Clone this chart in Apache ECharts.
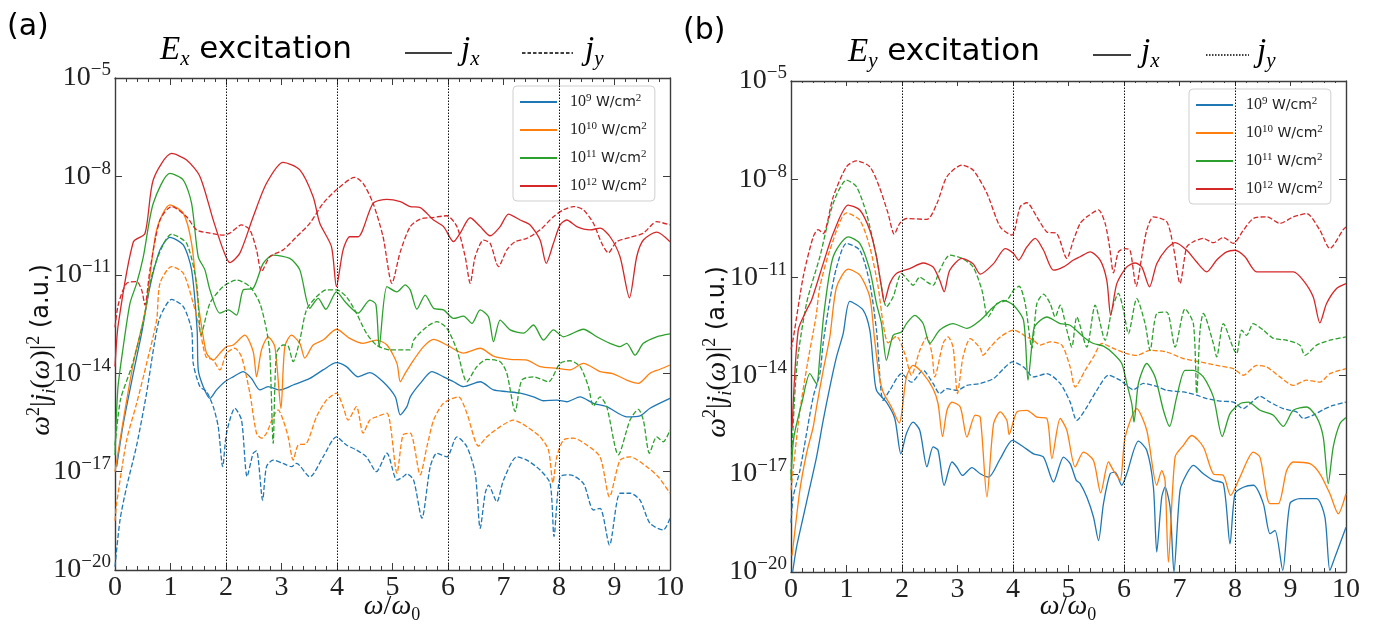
<!DOCTYPE html>
<html><head><meta charset="utf-8">
<script src="https://cdn.jsdelivr.net/npm/echarts@6/dist/echarts.min.js"></script>
<style>html,body{margin:0;padding:0;background:#fff}#c{width:1373px;height:635px}</style>
</head><body><div id="c"></div><script>
// ---- data: [omega/omega0, log10(omega^2 |j_i|^2)] ----
const yTicks = [-20,-17,-14,-11,-8,-5];
const vlines = [2,4,6,8];
const intensities = ['9','10','11','12'];
const colors = ['#1f77b4','#ff7f0e','#2ca02c','#d62728'];

// Panel (a): Ex excitation
const a_jx_9 = [[0.03,-16.85],[0.15,-15.53],[0.33,-14.0],[0.48,-12.78],[0.63,-11.36],[0.81,-10.24],[0.99,-9.86],[1.23,-10.09],[1.38,-10.85],[1.48,-12.68],[1.5,-13.9],[1.59,-14.41],[1.71,-14.77],[1.83,-14.51],[1.98,-14.26],[2.13,-14.11],[2.31,-13.95],[2.46,-14.16],[2.61,-14.51],[2.76,-14.41],[2.97,-14.51],[3.21,-14.36],[3.51,-14.16],[3.75,-13.9],[3.99,-13.68],[4.17,-13.8],[4.38,-14.11],[4.59,-13.98],[4.83,-14.26],[5.05,-14.72],[5.14,-15.27],[5.26,-15.02],[5.32,-14.72],[5.5,-14.31],[5.71,-13.95],[5.92,-14.11],[6.1,-14.26],[6.28,-14.41],[6.58,-14.26],[6.82,-14.51],[7.06,-14.56],[7.3,-14.61],[7.54,-14.72],[7.72,-14.84],[7.96,-14.82],[8.14,-14.87],[8.38,-14.72],[8.62,-14.92],[8.86,-15.02],[9.22,-15.33],[9.46,-15.3],[9.64,-15.07],[10,-14.77]];
const a_jy_9 = [[0.0,-19.9],[0.09,-18.48],[0.21,-17.46],[0.39,-16.2],[0.57,-14.6],[0.7,-13.2],[0.81,-12.3],[1.02,-11.75],[1.23,-11.97],[1.38,-12.68],[1.41,-13.7],[1.53,-14.41],[1.65,-14.56],[1.77,-15.02],[1.86,-15.63],[1.94,-16.85],[2.01,-15.83],[2.16,-15.07],[2.28,-15.43],[2.38,-17.15],[2.49,-16.44],[2.55,-16.37],[2.66,-17.87],[2.73,-16.85],[2.85,-16.65],[3.03,-16.75],[3.18,-16.85],[3.27,-16.75],[3.51,-17.16],[3.75,-16.55],[3.99,-15.94],[4.17,-16.19],[4.35,-16.34],[4.53,-16.55],[4.71,-17.0],[4.9,-16.44],[5.08,-17.26],[5.19,-17.16],[5.26,-17.07],[5.38,-17.26],[5.53,-18.42],[5.68,-16.85],[5.8,-16.44],[5.98,-16.55],[6.16,-15.94],[6.34,-16.24],[6.49,-17.05],[6.58,-18.73],[6.67,-17.66],[6.73,-17.41],[6.88,-17.92],[7.0,-17.26],[7.24,-16.55],[7.42,-16.65],[7.66,-16.95],[7.84,-17.36],[7.91,-18.98],[8.02,-17.16],[8.2,-17.1],[8.44,-17.36],[8.62,-18.17],[8.74,-18.12],[8.91,-19.24],[9.1,-17.66],[9.28,-17.66],[9.46,-17.87],[9.64,-18.58],[9.88,-18.78],[10,-18.42]];
const a_jx_10 = [[0,-17.0],[0.15,-15.43],[0.33,-13.7],[0.51,-12.38],[0.57,-11.87],[0.75,-9.63],[0.99,-8.87],[1.23,-9.12],[1.38,-10.04],[1.5,-11.87],[1.59,-12.89],[1.65,-13.39],[1.77,-13.6],[1.89,-13.39],[2.01,-13.19],[2.13,-13.14],[2.34,-12.84],[2.49,-13.34],[2.55,-14.11],[2.64,-13.29],[2.76,-12.89],[2.88,-13.19],[2.99,-15.07],[3.06,-13.19],[3.18,-12.84],[3.33,-13.09],[3.42,-13.54],[3.57,-13.14],[3.75,-12.99],[3.99,-12.66],[4.23,-12.94],[4.47,-13.09],[4.71,-12.99],[4.9,-13.14],[5.08,-13.7],[5.14,-14.26],[5.23,-14.0],[5.38,-13.6],[5.56,-13.19],[5.74,-12.97],[5.98,-13.14],[6.28,-13.39],[6.58,-13.24],[6.82,-13.48],[7.12,-13.58],[7.42,-13.6],[7.66,-13.8],[7.96,-13.85],[8.2,-13.9],[8.44,-13.7],[8.74,-13.95],[8.98,-14.02],[9.22,-14.21],[9.43,-14.31],[9.64,-14.0],[9.82,-13.88],[10,-13.75]];
const a_jy_10 = [[0,-18.5],[0.03,-17.97],[0.21,-16.04],[0.39,-14.92],[0.57,-13.7],[0.75,-12.38],[0.81,-11.26],[1.02,-10.75],[1.23,-10.95],[1.41,-11.87],[1.53,-12.68],[1.64,-13.5],[1.77,-13.6],[1.89,-13.9],[2.01,-13.39],[2.16,-13.24],[2.28,-13.5],[2.43,-14.61],[2.55,-15.83],[2.64,-15.98],[2.73,-15.83],[2.85,-15.33],[2.94,-15.12],[3.03,-15.43],[3.12,-15.94],[3.21,-16.65],[3.3,-16.19],[3.45,-16.14],[3.63,-15.33],[3.81,-14.82],[3.99,-14.61],[4.11,-15.02],[4.2,-15.43],[4.35,-15.02],[4.47,-15.83],[4.59,-15.43],[4.71,-15.33],[4.9,-15.22],[5.08,-17.05],[5.19,-15.88],[5.32,-15.83],[5.5,-17.1],[5.62,-16.24],[5.74,-15.43],[5.89,-14.97],[6.01,-14.82],[6.19,-14.72],[6.34,-15.22],[6.55,-16.22],[6.7,-15.94],[6.94,-15.63],[7.18,-15.43],[7.42,-15.63],[7.66,-15.94],[7.81,-16.34],[7.89,-17.34],[7.96,-16.55],[8.08,-16.04],[8.26,-15.98],[8.5,-16.19],[8.74,-16.55],[8.91,-17.77],[9.1,-16.65],[9.28,-16.55],[9.58,-16.85],[9.79,-17.16],[10,-17.66]];
const a_jx_11 = [[0,-16.5],[0.05,-14.5],[0.14,-13.3],[0.27,-11.87],[0.39,-11.26],[0.51,-10.45],[0.69,-8.82],[0.99,-7.91],[1.23,-8.11],[1.38,-8.82],[1.5,-10.45],[1.62,-10.85],[1.71,-11.46],[1.89,-12.17],[2.04,-12.07],[2.19,-12.23],[2.31,-11.46],[2.49,-11.41],[2.67,-10.65],[2.85,-10.4],[3.15,-10.5],[3.33,-10.85],[3.51,-12.02],[3.66,-11.72],[3.8,-12.05],[3.99,-11.52],[4.17,-11.87],[4.38,-12.17],[4.59,-11.77],[4.7,-11.9],[4.76,-13.19],[4.9,-11.36],[5.08,-11.52],[5.23,-11.31],[5.32,-11.46],[5.44,-12.05],[5.59,-11.62],[5.74,-12.02],[5.92,-12.07],[6.1,-12.33],[6.28,-12.26],[6.43,-12.48],[6.58,-12.07],[6.73,-12.28],[6.82,-13.04],[6.94,-12.38],[7.12,-12.68],[7.36,-12.78],[7.54,-12.53],[7.72,-12.99],[7.9,-12.68],[8.08,-12.89],[8.44,-12.66],[8.68,-12.89],[8.92,-13.09],[9.1,-13.19],[9.22,-13.09],[9.37,-13.45],[9.52,-13.09],[9.76,-12.89],[10,-12.8]];
const a_jy_11 = [[0,-16.2],[0.1,-14.8],[0.3,-13.8],[0.5,-12.5],[0.7,-10.8],[1.02,-9.76],[1.29,-10.04],[1.47,-11.26],[1.55,-12.84],[1.71,-11.87],[1.95,-11.36],[2.19,-11.16],[2.43,-11.36],[2.61,-11.87],[2.73,-12.68],[2.79,-13.4],[2.85,-16.14],[2.91,-13.39],[3.03,-13.14],[3.12,-13.17],[3.21,-13.65],[3.33,-12.99],[3.45,-12.07],[3.63,-11.67],[3.81,-11.46],[3.99,-11.46],[4.17,-11.67],[4.35,-12.17],[4.53,-12.78],[4.71,-13.14],[4.95,-13.29],[5.32,-13.29],[5.38,-12.99],[5.62,-12.58],[5.8,-12.43],[5.98,-12.63],[6.16,-13.29],[6.34,-14.26],[6.52,-13.8],[6.7,-13.58],[6.94,-13.65],[7.06,-14.0],[7.21,-15.17],[7.33,-14.21],[7.54,-14.11],[7.81,-14.26],[8.02,-13.7],[8.2,-13.62],[8.38,-13.8],[8.53,-14.41],[8.62,-15.0],[8.74,-14.72],[8.86,-15.02],[9.07,-16.49],[9.28,-15.43],[9.43,-15.1],[9.52,-15.43],[9.63,-16.44],[9.76,-15.94],[9.88,-16.09],[10,-15.73]];
const a_jx_12 = [[0,-13.8],[0.06,-12.5],[0.33,-10.0],[0.54,-9.74],[0.69,-8.1],[1.02,-7.3],[1.29,-7.5],[1.53,-8.0],[1.77,-9.33],[1.95,-10.24],[2.07,-10.63],[2.25,-10.34],[2.49,-9.23],[2.73,-8.21],[3.03,-7.57],[3.33,-7.8],[3.57,-8.62],[3.69,-9.43],[3.9,-10.14],[3.99,-11.36],[4.11,-10.24],[4.23,-9.84],[4.38,-9.84],[4.65,-8.82],[4.9,-8.7],[5.14,-8.77],[5.32,-8.92],[5.5,-8.95],[5.74,-9.33],[5.92,-9.53],[6.1,-9.99],[6.22,-9.73],[6.4,-9.26],[6.58,-9.53],[6.76,-9.81],[6.94,-9.53],[7.09,-9.15],[7.3,-9.33],[7.48,-9.48],[7.66,-9.94],[7.77,-10.65],[7.9,-10.04],[8.02,-9.48],[8.14,-9.33],[8.32,-9.53],[8.56,-9.63],[8.74,-9.58],[8.92,-9.84],[9.1,-10.45],[9.27,-11.7],[9.4,-10.45],[9.52,-9.94],[9.76,-9.7],[10,-9.99]];
const a_jy_12 = [[0,-12.6],[0.06,-11.9],[0.21,-11.26],[0.39,-11.21],[0.48,-11.46],[0.54,-11.92],[0.63,-10.85],[0.81,-9.33],[1.02,-8.92],[1.29,-9.23],[1.47,-9.63],[1.71,-9.73],[1.95,-9.79],[2.07,-9.73],[2.28,-9.48],[2.43,-9.63],[2.55,-10.24],[2.64,-10.9],[2.79,-10.45],[3.03,-10.24],[3.27,-9.84],[3.51,-9.43],[3.75,-8.82],[3.99,-8.41],[4.32,-8.03],[4.47,-8.21],[4.65,-8.82],[4.83,-9.84],[4.99,-11.26],[5.14,-10.3],[5.32,-9.53],[5.5,-9.3],[5.74,-9.25],[5.98,-9.2],[6.16,-9.53],[6.31,-10.45],[6.4,-11.26],[6.49,-10.45],[6.64,-9.94],[6.76,-10.04],[6.91,-10.75],[7.06,-10.24],[7.21,-9.99],[7.42,-9.89],[7.66,-9.63],[7.9,-9.23],[8.08,-9.02],[8.26,-8.92],[8.44,-9.02],[8.62,-9.43],[8.77,-10.04],[8.89,-10.33],[9.04,-9.99],[9.28,-9.86],[9.52,-9.73],[9.76,-9.38],[10,-9.48]];

// Panel (b): Ey excitation
const b_jx_9 = [[0.03,-20.0],[0.1,-19.24],[0.22,-18.32],[0.34,-17.41],[0.46,-16.49],[0.58,-15.37],[0.7,-14.35],[0.82,-13.43],[0.94,-12.72],[1.06,-11.73],[1.3,-12.0],[1.42,-12.61],[1.48,-13.63],[1.54,-14.45],[1.72,-14.81],[1.87,-15.31],[1.98,-16.39],[2.08,-15.77],[2.2,-15.42],[2.32,-15.67],[2.45,-16.79],[2.56,-16.18],[2.65,-16.28],[2.76,-17.35],[2.9,-16.64],[2.99,-16.8],[3.09,-17.05],[3.26,-16.81],[3.41,-17.0],[3.56,-17.1],[3.77,-16.54],[3.99,-15.98],[4.19,-16.18],[4.37,-16.39],[4.55,-16.49],[4.73,-17.25],[4.91,-16.49],[5.03,-16.69],[5.14,-17.2],[5.21,-17.3],[5.33,-17.71],[5.45,-18.32],[5.54,-19.04],[5.63,-17.91],[5.75,-17.0],[5.84,-16.95],[5.96,-17.35],[6.05,-17.0],[6.26,-16.0],[6.41,-16.28],[6.53,-17.41],[6.59,-19.39],[6.68,-17.71],[6.74,-17.41],[6.83,-18.02],[6.9,-20.0],[7.01,-17.5],[7.13,-17.0],[7.25,-16.74],[7.43,-17.0],[7.61,-17.2],[7.79,-17.3],[7.91,-19.14],[8.0,-17.61],[8.15,-17.41],[8.33,-17.35],[8.51,-17.91],[8.63,-18.83],[8.72,-18.73],[8.86,-19.95],[8.99,-17.91],[9.17,-17.76],[9.47,-17.76],[9.62,-18.32],[9.71,-19.95],[9.8,-19.55],[10,-18.63]];
const b_jy_9 = [[0,-18.5],[0.04,-17.7],[0.16,-16.9],[0.4,-14.65],[0.52,-13.94],[0.58,-13.0],[0.7,-11.7],[0.82,-10.7],[1.0,-9.96],[1.24,-10.17],[1.42,-11.19],[1.54,-12.61],[1.66,-14.76],[1.78,-14.45],[1.99,-13.94],[2.17,-14.2],[2.38,-13.84],[2.56,-14.24],[2.68,-14.55],[2.81,-14.4],[2.99,-14.45],[3.17,-14.3],[3.41,-14.24],[3.65,-14.09],[3.83,-13.79],[3.99,-13.58],[4.19,-13.74],[4.37,-14.04],[4.61,-13.94],[4.85,-14.24],[5.03,-14.81],[5.15,-15.37],[5.33,-14.96],[5.51,-14.45],[5.72,-13.99],[5.93,-14.14],[6.17,-14.43],[6.35,-14.24],[6.59,-14.33],[6.77,-14.45],[7.07,-14.5],[7.31,-14.6],[7.49,-14.7],[7.73,-14.78],[7.97,-14.81],[8.15,-15.01],[8.27,-14.86],[8.45,-14.63],[8.63,-14.81],[8.87,-15.01],[9.11,-15.11],[9.23,-15.31],[9.41,-15.21],[9.59,-15.04],[9.77,-14.91],[10,-14.81]];
const b_jx_10 = [[0.02,-19.5],[0.16,-17.5],[0.28,-16.38],[0.4,-15.57],[0.46,-14.96],[0.58,-13.84],[0.7,-12.82],[0.82,-11.3],[1.03,-10.75],[1.24,-10.93],[1.42,-11.6],[1.5,-12.8],[1.58,-13.9],[1.66,-14.5],[1.81,-14.96],[1.95,-15.45],[2.08,-14.04],[2.2,-13.69],[2.38,-13.94],[2.56,-14.4],[2.65,-14.86],[2.73,-15.86],[2.81,-15.06],[2.9,-14.81],[3.05,-14.96],[3.17,-15.88],[3.32,-15.21],[3.41,-15.27],[3.53,-17.71],[3.65,-15.47],[3.77,-15.11],[3.89,-15.37],[3.93,-15.8],[4.07,-15.11],[4.25,-15.06],[4.43,-15.27],[4.61,-15.31],[4.7,-16.54],[4.85,-15.31],[4.97,-15.67],[5.12,-16.79],[5.27,-16.34],[5.45,-16.59],[5.58,-17.58],[5.72,-16.64],[5.81,-16.9],[5.93,-17.2],[6.02,-15.88],[6.23,-15.01],[6.41,-15.67],[6.59,-17.35],[6.68,-16.9],[6.74,-17.2],[6.8,-19.7],[6.92,-16.49],[7.07,-16.13],[7.22,-15.83],[7.43,-16.18],[7.61,-17.0],[7.79,-17.05],[7.92,-17.66],[8.09,-17.1],[8.33,-16.34],[8.45,-16.49],[8.63,-17.91],[8.78,-17.91],[8.93,-16.9],[9.05,-16.64],[9.35,-16.69],[9.53,-17.0],[9.71,-17.61],[9.86,-18.22],[10,-17.61]];
const b_jy_10 = [[0,-17.5],[0.15,-15.2],[0.3,-13.6],[0.45,-12.2],[0.52,-11.29],[0.7,-10.17],[1.0,-9.03],[1.24,-9.25],[1.42,-10.07],[1.57,-11.29],[1.66,-12.41],[1.75,-13.0],[1.9,-12.8],[2.05,-13.33],[2.17,-13.99],[2.32,-13.23],[2.45,-12.82],[2.54,-13.33],[2.59,-14.04],[2.74,-13.02],[2.83,-12.82],[2.92,-13.13],[3.0,-14.55],[3.1,-13.43],[3.23,-12.87],[3.41,-13.17],[3.46,-13.38],[3.59,-13.13],[3.77,-12.82],[4.01,-12.61],[4.25,-12.82],[4.37,-12.92],[4.49,-13.07],[4.67,-12.97],[4.88,-13.07],[5.03,-13.74],[5.12,-14.35],[5.3,-13.84],[5.45,-13.43],[5.6,-13.02],[5.81,-13.17],[6.05,-13.33],[6.23,-13.38],[6.47,-13.23],[6.77,-13.28],[7.07,-13.48],[7.37,-13.58],[7.67,-13.69],[7.97,-13.79],[8.15,-13.99],[8.39,-13.69],[8.57,-13.74],[8.81,-14.04],[9.05,-14.3],[9.29,-14.14],[9.53,-14.2],[9.71,-13.94],[10,-13.79]];
const b_jx_11 = [[0,-17.2],[0.05,-15.9],[0.2,-14.8],[0.34,-13.94],[0.46,-14.25],[0.52,-13.4],[0.6,-12.0],[0.76,-10.37],[1.03,-9.76],[1.24,-9.96],[1.42,-10.78],[1.54,-11.8],[1.63,-12.41],[1.72,-13.53],[1.84,-12.77],[1.99,-12.67],[2.08,-12.41],[2.23,-12.16],[2.38,-12.41],[2.5,-13.02],[2.68,-12.61],[2.92,-12.41],[3.17,-12.56],[3.41,-12.31],[3.65,-11.9],[3.83,-11.7],[4.01,-11.85],[4.19,-12.31],[4.27,-14.14],[4.37,-12.61],[4.43,-12.41],[4.61,-12.21],[4.85,-12.41],[5.03,-12.46],[5.27,-12.82],[5.45,-13.02],[5.63,-13.1],[5.81,-13.33],[5.96,-13.63],[6.05,-14.24],[6.14,-14.86],[6.18,-15.42],[6.26,-14.24],[6.41,-13.63],[6.56,-14.04],[6.71,-15.06],[6.82,-15.55],[6.95,-14.65],[7.1,-13.84],[7.25,-13.84],[7.43,-14.04],[7.61,-14.65],[7.77,-15.86],[7.91,-15.16],[8.09,-14.86],[8.24,-14.81],[8.45,-15.06],[8.69,-15.21],[8.87,-15.55],[9.05,-15.06],[9.29,-14.96],[9.47,-15.27],[9.59,-15.88],[9.68,-17.3],[9.77,-16.18],[9.89,-15.47],[10,-15.28]];
const b_jy_11 = [[0,-17.0],[0.1,-13.8],[0.28,-11.79],[0.52,-10.37],[0.76,-8.74],[1.0,-8.03],[1.18,-8.23],[1.36,-9.05],[1.54,-10.37],[1.63,-11.29],[1.72,-11.9],[1.84,-11.6],[1.99,-10.88],[2.11,-11.09],[2.2,-11.24],[2.32,-10.99],[2.45,-11.14],[2.56,-11.24],[2.68,-10.78],[2.86,-10.32],[3.08,-10.42],[3.28,-10.68],[3.44,-11.39],[3.55,-12.21],[3.71,-11.8],[3.89,-11.7],[4.01,-11.39],[4.11,-11.27],[4.22,-11.8],[4.34,-13.17],[4.43,-11.8],[4.55,-11.51],[4.67,-11.8],[4.76,-12.21],[4.85,-11.85],[4.97,-12.61],[5.06,-13.13],[5.15,-12.21],[5.33,-13.13],[5.48,-11.85],[5.66,-12.92],[5.78,-12.0],[5.9,-11.49],[5.99,-12.0],[6.08,-12.72],[6.23,-11.65],[6.38,-12.41],[6.47,-13.23],[6.59,-12.1],[6.77,-12.06],[6.92,-13.13],[7.1,-11.96],[7.25,-12.41],[7.31,-14.55],[7.37,-12.61],[7.43,-12.1],[7.61,-13.02],[7.67,-13.43],[7.79,-12.41],[7.97,-13.17],[8.03,-13.33],[8.12,-12.61],[8.21,-12.77],[8.33,-12.41],[8.51,-12.61],[8.69,-12.86],[8.93,-12.92],[9.17,-13.07],[9.26,-13.38],[9.47,-13.07],[9.71,-12.92],[10,-12.82]];
const b_jx_12 = [[0.02,-15.6],[0.13,-12.61],[0.28,-12.0],[0.37,-11.7],[0.58,-10.58],[0.76,-9.66],[1.03,-8.79],[1.24,-8.94],[1.42,-9.56],[1.54,-10.37],[1.63,-11.29],[1.68,-11.75],[1.78,-11.19],[1.9,-10.88],[2.14,-10.73],[2.38,-10.56],[2.56,-10.68],[2.68,-11.09],[2.76,-11.44],[2.86,-10.78],[3.08,-10.42],[3.28,-10.58],[3.41,-10.9],[3.65,-10.58],[3.86,-10.12],[4.01,-10.27],[4.1,-10.47],[4.25,-10.07],[4.4,-9.81],[4.55,-10.17],[4.73,-10.78],[4.91,-10.68],[5.09,-10.47],[5.21,-10.37],[5.39,-10.22],[5.57,-10.47],[5.69,-11.09],[5.76,-12.16],[5.87,-11.19],[6.05,-10.68],[6.2,-10.56],[6.32,-10.68],[6.46,-11.29],[6.59,-10.58],[6.77,-10.12],[6.92,-9.94],[7.13,-10.17],[7.31,-10.53],[7.49,-10.83],[7.67,-10.47],[7.85,-10.22],[8.0,-10.17],[8.18,-10.37],[8.39,-10.83],[8.69,-10.83],[9.05,-10.83],[9.23,-11.09],[9.41,-11.6],[9.53,-12.39],[9.65,-11.8],[9.83,-11.34],[10,-11.19]];
const b_jy_12 = [[0,-13.2],[0.04,-12.87],[0.22,-10.98],[0.4,-9.76],[0.49,-9.54],[0.58,-9.66],[0.76,-8.54],[1.0,-7.62],[1.18,-7.44],[1.42,-7.62],[1.59,-8.23],[1.75,-9.05],[1.86,-9.68],[1.96,-9.35],[2.08,-9.2],[2.45,-9.23],[2.63,-8.74],[2.81,-7.92],[3.08,-7.57],[3.28,-7.72],[3.53,-8.43],[3.77,-9.46],[3.98,-9.71],[4.13,-8.84],[4.25,-8.72],[4.43,-9.15],[4.61,-9.61],[4.79,-9.66],[4.97,-10.42],[5.09,-9.86],[5.21,-9.35],[5.33,-9.15],[5.54,-8.94],[5.66,-9.35],[5.74,-10.07],[5.81,-10.86],[5.9,-10.22],[6.02,-10.12],[6.11,-10.17],[6.22,-11.27],[6.32,-10.37],[6.41,-9.56],[6.53,-9.15],[6.77,-9.3],[6.89,-10.07],[7.01,-11.19],[7.13,-10.07],[7.25,-9.91],[7.43,-9.81],[7.61,-9.94],[7.79,-9.78],[7.97,-9.96],[8.15,-9.56],[8.33,-9.2],[8.57,-9.15],[8.81,-9.35],[9.05,-9.15],[9.29,-9.05],[9.53,-9.56],[9.71,-10.12],[9.95,-9.54],[10,-9.46]];

const panelA = {jx:[a_jx_9,a_jx_10,a_jx_11,a_jx_12], jy:[a_jy_9,a_jy_10,a_jy_11,a_jy_12]};
const panelB = {jx:[b_jx_9,b_jx_10,b_jx_11,b_jx_12], jy:[b_jy_9,b_jy_10,b_jy_11,b_jy_12]};

const serif = "'Liberation Serif', 'DejaVu Serif', serif";
const sans = "'DejaVu Sans', 'Liberation Sans', sans-serif";
const axisColor = '#3c3c3c';

function yFmt(v){ return '{b|10}{s|' + (v < 0 ? '\u2212' + (-v) : v) + '}'; }
const yRich = {
  b:{fontFamily:serif, fontSize:28, lineHeight:34, color:'#222'},
  s:{fontFamily:serif, fontSize:19, lineHeight:20, verticalAlign:'top', color:'#222'}
};

function xAxes(g, top, dotTop){
  return {
    type:'value', gridIndex:g, min:0, max:10, interval:1, position: top ? 'top' : 'bottom',
    axisLine:{show:true, onZero:false, lineStyle:{color:axisColor, width:1.4}},
    axisTick:{show:true, inside:true, length: dotTop ? 5 : 7, lineStyle:{color:axisColor, width:1}},
    minorTick:{show:true, splitNumber:5, length: dotTop ? 2 : 4, lineStyle:{color:axisColor, width:1}},
    splitLine:{show:false},
    axisLabel:{show:!top, fontFamily:serif, fontSize:28, color:'#222', margin:4}
  };
}
function yAxes(g, right){
  return {
    type:'value', gridIndex:g, min:-20, max:-5, position: right ? 'right' : 'left',
    axisLine:{show:true, onZero:false, lineStyle:{color:axisColor, width:1.4}},
    axisTick:{show:true, inside:true, length:7, customValues:yTicks, lineStyle:{color:axisColor, width:1}},
    splitLine:{show:false},
    axisLabel:{show:!right, customValues:yTicks, formatter:yFmt, rich:yRich, margin:4}
  };
}

const series = [];
function addPanel(p, tag, xi, yi){
  intensities.forEach((k, i) => {
    const base = {type:'line', xAxisIndex:xi, yAxisIndex:yi, symbol:'none', smooth:0.25,
      animation:false, clip:true, emphasis:{disabled:true}};
    const s1 = Object.assign({}, base, {name: tag + k, data: p.jx[i],
      lineStyle:{color:colors[i], width:1.3, type:'solid'}, itemStyle:{color:colors[i]}});
    const s2 = Object.assign({}, base, {name: tag + k + 'y', data: p.jy[i],
      lineStyle:{color:colors[i], width:1.3, type:[5,2.2]}, itemStyle:{color:colors[i]}});
    if (i === 0) {
      s1.markLine = {silent:true, symbol:['none','none'], animation:false, label:{show:false},
        lineStyle:{color:'#111', width:1, type:[1.5,1.5]}, data: vlines.map(v => ({xAxis:v}))};
    }
    series.push(s1, s2);
  });
}
addPanel(panelA, 'a', 0, 0);
addPanel(panelB, 'b', 2, 2);

const legendRich = {
  n:{fontFamily:serif, fontSize:16, lineHeight:18, color:'#222', padding:[0,0,0,8]},
  s:{fontFamily:serif, fontSize:11, lineHeight:12, verticalAlign:'top', color:'#222'},
  t:{fontFamily:sans, fontSize:14, lineHeight:18, color:'#222'}
};
function legendFmt(name){ const k = name.slice(1); return '{n|10}{s|' + k + '}{t| W/cm}{s|2}'; }
function mkLegend(tag, left, top){
  return {show:true, orient:'vertical', left:left, top:top, selectedMode:false, icon:'rect',
    data: intensities.map(k => tag + k), itemWidth:37, itemHeight:2, itemGap:11,
    padding:[7,8,7,7], backgroundColor:'rgba(255,255,255,0.85)', borderColor:'#cfcfcf',
    borderWidth:1, borderRadius:4, formatter:legendFmt, textStyle:{rich:legendRich}};
}

const titleRich = {
  e:{fontFamily:serif, fontStyle:'italic', fontSize:33, lineHeight:40, fill:'#000'},
  sub:{fontFamily:serif, fontStyle:'italic', fontSize:21, lineHeight:22, verticalAlign:'bottom', fill:'#000'},
  t:{fontFamily:sans, fontSize:31, lineHeight:40, fill:'#000'}
};
const labelRich = {
  i:{fontFamily:serif, fontStyle:'italic', fontSize:28, lineHeight:34, fill:'#111'},
  n:{fontFamily:serif, fontSize:28, lineHeight:34, fill:'#111'},
  sup:{fontFamily:serif, fontSize:18, lineHeight:18, verticalAlign:'top', fill:'#111'},
  sub:{fontFamily:serif, fontStyle:'italic', fontSize:18, lineHeight:18, verticalAlign:'bottom', fill:'#111'},
  sub0:{fontFamily:serif, fontSize:18, lineHeight:18, verticalAlign:'bottom', fill:'#111'},
  t:{fontFamily:sans, fontSize:24, lineHeight:34, fill:'#111'}
};
function txt(x, y, text, rich, opt){
  return Object.assign({type:'text', x:x, y:y, silent:true,
    style:{text:text, rich:rich, align:'left', verticalAlign:'middle', fill:'#000'}}, opt || {});
}
const yLabel = '{i|ω}{sup|2}{n||}{i|j}{sub|i}{n|(}{i|ω}{n|)|}{sup|2}{t| (a.u.)}';
const xLabel = '{i|ω}{n|/}{i|ω}{sub0|0}';

const graphic = [
  {type:'text', x:7, y:27, silent:true, style:{text:'(a)', fontFamily:sans, fontSize:30, fill:'#000', verticalAlign:'middle'}},
  {type:'text', x:683, y:31, silent:true, style:{text:'(b)', fontFamily:sans, fontSize:30, fill:'#000', verticalAlign:'middle'}},
  txt(160, 50, '{e|E}{sub|x}{t| excitation}', titleRich),
  txt(848, 52, '{e|E}{sub|y}{t| excitation}', titleRich),
  {type:'line', silent:true, shape:{x1:405, y1:53, x2:452, y2:53}, style:{stroke:'#000', lineWidth:1.5}},
  txt(461, 50, '{e|j}{sub|x}', titleRich),
  {type:'line', silent:true, shape:{x1:522, y1:53, x2:573, y2:53}, style:{stroke:'#000', lineWidth:1.5, lineDash:[3.5,2]}},
  txt(585, 50, '{e|j}{sub|y}', titleRich),
  {type:'line', silent:true, shape:{x1:1093, y1:55, x2:1131, y2:55}, style:{stroke:'#000', lineWidth:1.5}},
  txt(1141, 52, '{e|j}{sub|x}', titleRich),
  {type:'line', silent:true, shape:{x1:1206, y1:55, x2:1249, y2:55}, style:{stroke:'#000', lineWidth:1.5, lineDash:[1.5,1.5]}},
  txt(1257, 52, '{e|j}{sub|y}', titleRich),
  txt(42, 350, yLabel, labelRich, {rotation:Math.PI/2, style:{text:yLabel, rich:labelRich, align:'center', verticalAlign:'middle'}}),
  txt(718, 352, yLabel, labelRich, {rotation:Math.PI/2, style:{text:yLabel, rich:labelRich, align:'center', verticalAlign:'middle'}}),
  txt(392, 607, xLabel, labelRich, {style:{text:xLabel, rich:labelRich, align:'center', verticalAlign:'middle'}}),
  txt(1068, 607, xLabel, labelRich, {style:{text:xLabel, rich:labelRich, align:'center', verticalAlign:'middle'}})
];

const chart = echarts.init(document.getElementById('c'));
chart.setOption({
  animation:false,
  backgroundColor:'#fff',
  grid:[{left:115, top:78, width:555, height:492}, {left:791, top:81, width:555, height:491}],
  xAxis:[xAxes(0,false,false), xAxes(0,true,false), xAxes(1,false,false), xAxes(1,true,true)],
  yAxis:[yAxes(0,false), yAxes(0,true), yAxes(1,false), yAxes(1,true)],
  legend:[mkLegend('a', 513, 86), mkLegend('b', 1189, 89)],
  series: series,
  graphic: graphic
});
</script></body></html>
